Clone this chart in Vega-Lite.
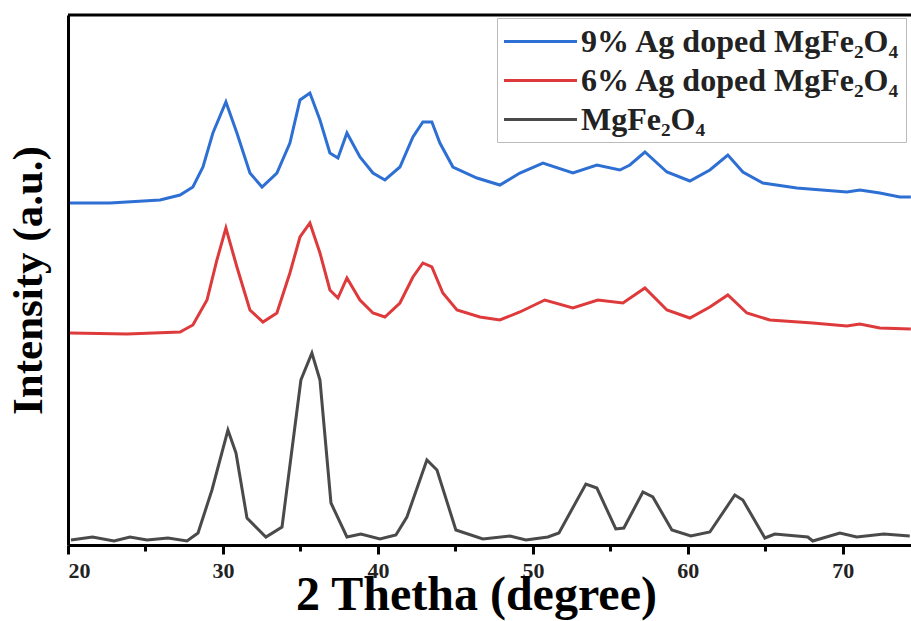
{
  "$schema": "https://vega.github.io/schema/vega-lite/v6.json",
  "width": 843,
  "height": 530,
  "autosize": {"type": "none"},
  "padding": {"left": 68, "top": 15, "right": 0, "bottom": 76},
  "background": "white",
  "config": {
    "view": {"stroke": null},
    "font": "Liberation Serif"
  },
  "datasets": {
    "xrd": [
      {"s": "9% Ag doped MgFe₂O₄", "x": 20.13, "v": 342},
      {"s": "9% Ag doped MgFe₂O₄", "x": 22.71, "v": 342},
      {"s": "9% Ag doped MgFe₂O₄", "x": 25.94, "v": 345},
      {"s": "9% Ag doped MgFe₂O₄", "x": 27.23, "v": 350},
      {"s": "9% Ag doped MgFe₂O₄", "x": 28.06, "v": 358},
      {"s": "9% Ag doped MgFe₂O₄", "x": 28.71, "v": 378},
      {"s": "9% Ag doped MgFe₂O₄", "x": 29.35, "v": 412},
      {"s": "9% Ag doped MgFe₂O₄", "x": 30.19, "v": 443},
      {"s": "9% Ag doped MgFe₂O₄", "x": 30.90, "v": 412},
      {"s": "9% Ag doped MgFe₂O₄", "x": 31.74, "v": 372},
      {"s": "9% Ag doped MgFe₂O₄", "x": 32.52, "v": 358},
      {"s": "9% Ag doped MgFe₂O₄", "x": 33.48, "v": 372},
      {"s": "9% Ag doped MgFe₂O₄", "x": 34.32, "v": 402},
      {"s": "9% Ag doped MgFe₂O₄", "x": 34.97, "v": 445},
      {"s": "9% Ag doped MgFe₂O₄", "x": 35.61, "v": 452},
      {"s": "9% Ag doped MgFe₂O₄", "x": 36.26, "v": 425},
      {"s": "9% Ag doped MgFe₂O₄", "x": 36.90, "v": 392},
      {"s": "9% Ag doped MgFe₂O₄", "x": 37.42, "v": 387},
      {"s": "9% Ag doped MgFe₂O₄", "x": 38.00, "v": 412},
      {"s": "9% Ag doped MgFe₂O₄", "x": 38.84, "v": 388},
      {"s": "9% Ag doped MgFe₂O₄", "x": 39.68, "v": 372},
      {"s": "9% Ag doped MgFe₂O₄", "x": 40.45, "v": 365},
      {"s": "9% Ag doped MgFe₂O₄", "x": 41.42, "v": 378},
      {"s": "9% Ag doped MgFe₂O₄", "x": 42.26, "v": 408},
      {"s": "9% Ag doped MgFe₂O₄", "x": 42.90, "v": 423},
      {"s": "9% Ag doped MgFe₂O₄", "x": 43.48, "v": 423},
      {"s": "9% Ag doped MgFe₂O₄", "x": 44.00, "v": 402},
      {"s": "9% Ag doped MgFe₂O₄", "x": 44.84, "v": 378},
      {"s": "9% Ag doped MgFe₂O₄", "x": 46.39, "v": 367},
      {"s": "9% Ag doped MgFe₂O₄", "x": 47.87, "v": 360},
      {"s": "9% Ag doped MgFe₂O₄", "x": 49.16, "v": 372},
      {"s": "9% Ag doped MgFe₂O₄", "x": 50.65, "v": 382},
      {"s": "9% Ag doped MgFe₂O₄", "x": 52.58, "v": 372},
      {"s": "9% Ag doped MgFe₂O₄", "x": 54.13, "v": 380},
      {"s": "9% Ag doped MgFe₂O₄", "x": 55.61, "v": 375},
      {"s": "9% Ag doped MgFe₂O₄", "x": 56.26, "v": 380},
      {"s": "9% Ag doped MgFe₂O₄", "x": 57.23, "v": 393},
      {"s": "9% Ag doped MgFe₂O₄", "x": 58.65, "v": 373},
      {"s": "9% Ag doped MgFe₂O₄", "x": 60.13, "v": 364},
      {"s": "9% Ag doped MgFe₂O₄", "x": 61.42, "v": 375},
      {"s": "9% Ag doped MgFe₂O₄", "x": 62.58, "v": 390},
      {"s": "9% Ag doped MgFe₂O₄", "x": 63.55, "v": 373},
      {"s": "9% Ag doped MgFe₂O₄", "x": 64.84, "v": 362},
      {"s": "9% Ag doped MgFe₂O₄", "x": 67.03, "v": 357},
      {"s": "9% Ag doped MgFe₂O₄", "x": 70.26, "v": 353},
      {"s": "9% Ag doped MgFe₂O₄", "x": 71.10, "v": 355},
      {"s": "9% Ag doped MgFe₂O₄", "x": 72.39, "v": 352},
      {"s": "9% Ag doped MgFe₂O₄", "x": 73.68, "v": 348},
      {"s": "9% Ag doped MgFe₂O₄", "x": 74.39, "v": 348},

      {"s": "6% Ag doped MgFe₂O₄", "x": 20.13, "v": 212},
      {"s": "6% Ag doped MgFe₂O₄", "x": 23.81, "v": 211},
      {"s": "6% Ag doped MgFe₂O₄", "x": 27.23, "v": 213},
      {"s": "6% Ag doped MgFe₂O₄", "x": 28.06, "v": 220},
      {"s": "6% Ag doped MgFe₂O₄", "x": 28.97, "v": 245},
      {"s": "6% Ag doped MgFe₂O₄", "x": 29.61, "v": 285},
      {"s": "6% Ag doped MgFe₂O₄", "x": 30.19, "v": 317},
      {"s": "6% Ag doped MgFe₂O₄", "x": 30.90, "v": 278},
      {"s": "6% Ag doped MgFe₂O₄", "x": 31.74, "v": 235},
      {"s": "6% Ag doped MgFe₂O₄", "x": 32.58, "v": 223},
      {"s": "6% Ag doped MgFe₂O₄", "x": 33.48, "v": 232},
      {"s": "6% Ag doped MgFe₂O₄", "x": 34.32, "v": 272},
      {"s": "6% Ag doped MgFe₂O₄", "x": 34.97, "v": 308},
      {"s": "6% Ag doped MgFe₂O₄", "x": 35.61, "v": 322},
      {"s": "6% Ag doped MgFe₂O₄", "x": 36.26, "v": 292},
      {"s": "6% Ag doped MgFe₂O₄", "x": 36.90, "v": 255},
      {"s": "6% Ag doped MgFe₂O₄", "x": 37.42, "v": 247},
      {"s": "6% Ag doped MgFe₂O₄", "x": 38.00, "v": 267},
      {"s": "6% Ag doped MgFe₂O₄", "x": 38.84, "v": 245},
      {"s": "6% Ag doped MgFe₂O₄", "x": 39.68, "v": 232},
      {"s": "6% Ag doped MgFe₂O₄", "x": 40.45, "v": 228},
      {"s": "6% Ag doped MgFe₂O₄", "x": 41.42, "v": 242},
      {"s": "6% Ag doped MgFe₂O₄", "x": 42.26, "v": 268},
      {"s": "6% Ag doped MgFe₂O₄", "x": 42.90, "v": 282},
      {"s": "6% Ag doped MgFe₂O₄", "x": 43.48, "v": 278},
      {"s": "6% Ag doped MgFe₂O₄", "x": 44.19, "v": 252},
      {"s": "6% Ag doped MgFe₂O₄", "x": 45.10, "v": 235},
      {"s": "6% Ag doped MgFe₂O₄", "x": 46.58, "v": 228},
      {"s": "6% Ag doped MgFe₂O₄", "x": 47.87, "v": 225},
      {"s": "6% Ag doped MgFe₂O₄", "x": 49.16, "v": 233},
      {"s": "6% Ag doped MgFe₂O₄", "x": 50.77, "v": 245},
      {"s": "6% Ag doped MgFe₂O₄", "x": 52.58, "v": 237},
      {"s": "6% Ag doped MgFe₂O₄", "x": 54.19, "v": 245},
      {"s": "6% Ag doped MgFe₂O₄", "x": 55.81, "v": 242},
      {"s": "6% Ag doped MgFe₂O₄", "x": 57.23, "v": 257},
      {"s": "6% Ag doped MgFe₂O₄", "x": 58.65, "v": 235},
      {"s": "6% Ag doped MgFe₂O₄", "x": 60.13, "v": 227},
      {"s": "6% Ag doped MgFe₂O₄", "x": 61.42, "v": 238},
      {"s": "6% Ag doped MgFe₂O₄", "x": 62.58, "v": 250},
      {"s": "6% Ag doped MgFe₂O₄", "x": 63.81, "v": 232},
      {"s": "6% Ag doped MgFe₂O₄", "x": 65.29, "v": 225},
      {"s": "6% Ag doped MgFe₂O₄", "x": 68.06, "v": 222},
      {"s": "6% Ag doped MgFe₂O₄", "x": 70.26, "v": 219},
      {"s": "6% Ag doped MgFe₂O₄", "x": 71.10, "v": 221},
      {"s": "6% Ag doped MgFe₂O₄", "x": 72.39, "v": 217},
      {"s": "6% Ag doped MgFe₂O₄", "x": 74.39, "v": 216},

      {"s": "MgFe₂O₄", "x": 20.19, "v": 5},
      {"s": "MgFe₂O₄", "x": 21.58, "v": 8},
      {"s": "MgFe₂O₄", "x": 22.97, "v": 4},
      {"s": "MgFe₂O₄", "x": 24.00, "v": 8},
      {"s": "MgFe₂O₄", "x": 25.10, "v": 5},
      {"s": "MgFe₂O₄", "x": 26.45, "v": 7},
      {"s": "MgFe₂O₄", "x": 27.68, "v": 4},
      {"s": "MgFe₂O₄", "x": 28.39, "v": 12},
      {"s": "MgFe₂O₄", "x": 29.29, "v": 55},
      {"s": "MgFe₂O₄", "x": 30.32, "v": 115},
      {"s": "MgFe₂O₄", "x": 30.84, "v": 92},
      {"s": "MgFe₂O₄", "x": 31.55, "v": 27},
      {"s": "MgFe₂O₄", "x": 32.77, "v": 8},
      {"s": "MgFe₂O₄", "x": 33.81, "v": 18},
      {"s": "MgFe₂O₄", "x": 35.03, "v": 165},
      {"s": "MgFe₂O₄", "x": 35.74, "v": 192},
      {"s": "MgFe₂O₄", "x": 36.26, "v": 165},
      {"s": "MgFe₂O₄", "x": 36.97, "v": 42},
      {"s": "MgFe₂O₄", "x": 38.00, "v": 8},
      {"s": "MgFe₂O₄", "x": 38.90, "v": 11},
      {"s": "MgFe₂O₄", "x": 40.13, "v": 6},
      {"s": "MgFe₂O₄", "x": 41.16, "v": 10},
      {"s": "MgFe₂O₄", "x": 41.87, "v": 28},
      {"s": "MgFe₂O₄", "x": 43.16, "v": 85},
      {"s": "MgFe₂O₄", "x": 43.81, "v": 75},
      {"s": "MgFe₂O₄", "x": 45.03, "v": 15},
      {"s": "MgFe₂O₄", "x": 46.77, "v": 6},
      {"s": "MgFe₂O₄", "x": 48.52, "v": 9},
      {"s": "MgFe₂O₄", "x": 49.55, "v": 5},
      {"s": "MgFe₂O₄", "x": 50.97, "v": 8},
      {"s": "MgFe₂O₄", "x": 51.68, "v": 12},
      {"s": "MgFe₂O₄", "x": 53.42, "v": 61},
      {"s": "MgFe₂O₄", "x": 54.13, "v": 57},
      {"s": "MgFe₂O₄", "x": 55.35, "v": 16},
      {"s": "MgFe₂O₄", "x": 55.87, "v": 17},
      {"s": "MgFe₂O₄", "x": 57.10, "v": 53},
      {"s": "MgFe₂O₄", "x": 57.74, "v": 48},
      {"s": "MgFe₂O₄", "x": 58.97, "v": 15},
      {"s": "MgFe₂O₄", "x": 60.19, "v": 9},
      {"s": "MgFe₂O₄", "x": 61.42, "v": 13},
      {"s": "MgFe₂O₄", "x": 63.03, "v": 50},
      {"s": "MgFe₂O₄", "x": 63.55, "v": 45},
      {"s": "MgFe₂O₄", "x": 64.97, "v": 7},
      {"s": "MgFe₂O₄", "x": 65.61, "v": 11},
      {"s": "MgFe₂O₄", "x": 67.74, "v": 8},
      {"s": "MgFe₂O₄", "x": 68.06, "v": 4},
      {"s": "MgFe₂O₄", "x": 69.81, "v": 12},
      {"s": "MgFe₂O₄", "x": 70.90, "v": 8},
      {"s": "MgFe₂O₄", "x": 72.65, "v": 11},
      {"s": "MgFe₂O₄", "x": 74.32, "v": 9}
    ],
    "frame": [{"top": 530}]
  },
  "layer": [
    {
      "data": {"name": "xrd"},
      "mark": {"type": "line", "strokeWidth": 3, "clip": true},
      "encoding": {
        "x": {
          "field": "x",
          "type": "quantitative",
          "scale": {"domain": [20, 74.4], "nice": false, "zero": false},
          "axis": {
            "values": [20, 25, 30, 35, 40, 45, 50, 55, 60, 65, 70],
            "labelExpr": "datum.value % 10 === 0 ? datum.label : ''",
            "grid": false,
            "domainColor": "#000000",
            "domainWidth": 3,
            "tickColor": "#000000",
            "tickWidth": 3,
            "tickSize": {"condition": {"test": "datum.value % 10 === 0", "value": 9}, "value": 6},
            "labelFont": "Liberation Serif",
            "labelFontWeight": "bold",
            "labelFontSize": 22,
            "labelColor": "#222222",
            "labelPadding": 6,
            "title": "2 Thetha (degree)",
            "titleFont": "Liberation Serif",
            "titleFontWeight": "bold",
            "titleFontSize": 48,
            "titleColor": "#000000",
            "titlePadding": -10,
            "titleX": 408
          }
        },
        "y": {
          "field": "v",
          "type": "quantitative",
          "scale": {"domain": [0, 530], "nice": false},
          "axis": {
            "labels": false,
            "ticks": false,
            "grid": false,
            "domainColor": "#000000",
            "domainWidth": 3,
            "title": "Intensity (a.u.)",
            "titleFont": "Liberation Serif",
            "titleFontWeight": "bold",
            "titleFontSize": 43,
            "titleColor": "#000000",
            "titlePadding": 18
          }
        },
        "color": {
          "field": "s",
          "type": "nominal",
          "scale": {
            "domain": ["9% Ag doped MgFe₂O₄", "6% Ag doped MgFe₂O₄", "MgFe₂O₄"],
            "range": ["#2e6fd4", "#de3a3c", "#4a4a4a"]
          },
          "legend": {
            "title": null,
            "orient": "none",
            "legendX": 429,
            "legendY": 3,
            "padding": 6,
            "strokeColor": "#bbbbbb",
            "fillColor": "#ffffff",
            "symbolType": "M-2.28,0H2.28",
            "symbolSize": 1024,
            "symbolOffset": 20,
            "symbolStrokeWidth": 3,
            "labelFont": "Liberation Serif",
            "labelFontWeight": "bold",
            "labelFontSize": 32,
            "labelColor": "#222222",
            "labelOffset": 23,
            "rowPadding": 5,
            "labelLimit": 0
          }
        }
      }
    },
    {
      "data": {"name": "frame"},
      "mark": {"type": "rule", "color": "#000000", "strokeWidth": 3},
      "encoding": {
        "y": {"field": "top", "type": "quantitative"}
      }
    }
  ]
}
